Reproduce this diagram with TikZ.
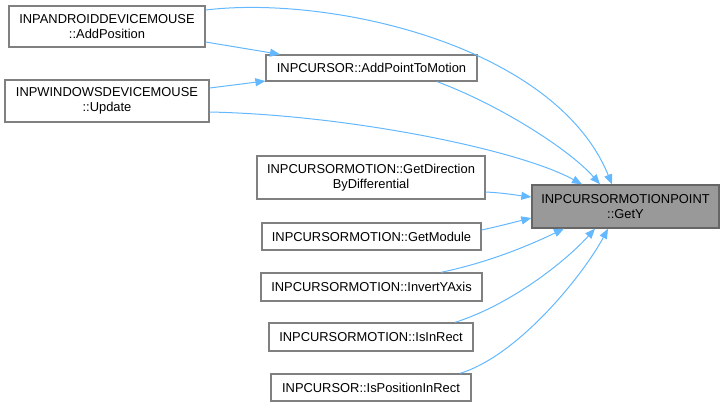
\documentclass[tikz,border=0pt]{standalone}
\usepackage{fontspec}
\setmainfont{Liberation Sans}
\usetikzlibrary{arrows.meta}
\definecolor{edgeblue}{HTML}{63B8FF}
\definecolor{boxborder}{HTML}{808080}
\definecolor{targetfill}{HTML}{999999}
\definecolor{targetborder}{HTML}{666666}
\begin{document}
\begin{tikzpicture}[x=1pt,y=-1pt,
  fn/.style={draw=boxborder,line width=1.3pt,fill=white,inner sep=0pt,align=center,
    font=\fontsize{12.9}{15}\selectfont},
  tgt/.style={fn,draw=targetborder,fill=targetfill},
  call/.style={draw=edgeblue,line width=1pt,-{Triangle[length=10pt,width=8pt]}}]
\useasboundingbox (0,0) rectangle (724,407);
\node[fn,minimum width=196pt,minimum height=41pt] (n1) at (107,26.5) {INPANDROIDDEVICEMOUSE\\::AddPosition};
\node[fn,minimum width=204pt,minimum height=42pt] (n2) at (107,101) {INPWINDOWSDEVICEMOUSE\\::Update};
\node[fn,minimum width=211pt,minimum height=26pt] (n3) at (371.5,68) {INPCURSOR::AddPointToMotion};
\node[fn,minimum width=228pt,minimum height=43pt] (n4) at (371,177.5) {INPCURSORMOTION::GetDirection\\ByDifferential};
\node[fn,minimum width=219pt,minimum height=27pt] (n5) at (371.5,236.5) {INPCURSORMOTION::GetModule};
\node[fn,minimum width=221pt,minimum height=28pt] (n6) at (371.5,287) {INPCURSORMOTION::InvertYAxis};
\node[fn,minimum width=204pt,minimum height=28pt] (n7) at (371,337) {INPCURSORMOTION::IsInRect};
\node[fn,minimum width=200pt,minimum height=27pt] (n8) at (371,387.5) {INPCURSOR::IsPositionInRect};
\node[tgt,minimum width=187pt,minimum height=43pt] (t) at (625.5,206.5) {INPCURSORMOTIONPOINT\\::GetY};

\draw[call] ([yshift=16.5pt]n1.east) .. controls (330,-5) and (555,45) .. ([xshift=-13.5pt]t.north);
\draw[call] ([yshift=-15.5pt]n1.east) -- ([xshift=-91.5pt]n3.north);
\draw[call] ([yshift=13pt]n2.east) -- ([yshift=-13pt]n3.west);
\draw[call] ([yshift=-11pt]n2.east) .. controls (350,115) and (520,150) .. ([xshift=-43.5pt]t.north);
\draw[call] ([xshift=65.5pt]n3.south) .. controls (500,105) and (570,150) .. ([xshift=-25.5pt]t.north);
\draw[call] ([yshift=-14.5pt]n4.east) .. controls (505,193) and (515,195) .. ([yshift=9.5pt]t.west);
\draw[call] ([yshift=6.5pt]n5.east) .. controls (500,226) and (515,222) .. ([yshift=-11.5pt]t.west);
\draw[call] ([xshift=69.5pt]n6.north) .. controls (490,262) and (530,245) .. ([xshift=-61.5pt]t.south);
\draw[call] ([xshift=84pt]n7.north) .. controls (510,305) and (565,262) .. ([xshift=-30.5pt]t.south);
\draw[call] ([xshift=89pt]n8.north) .. controls (520,355) and (585,272) .. ([xshift=-17.5pt]t.south);
\end{tikzpicture}
\end{document}
